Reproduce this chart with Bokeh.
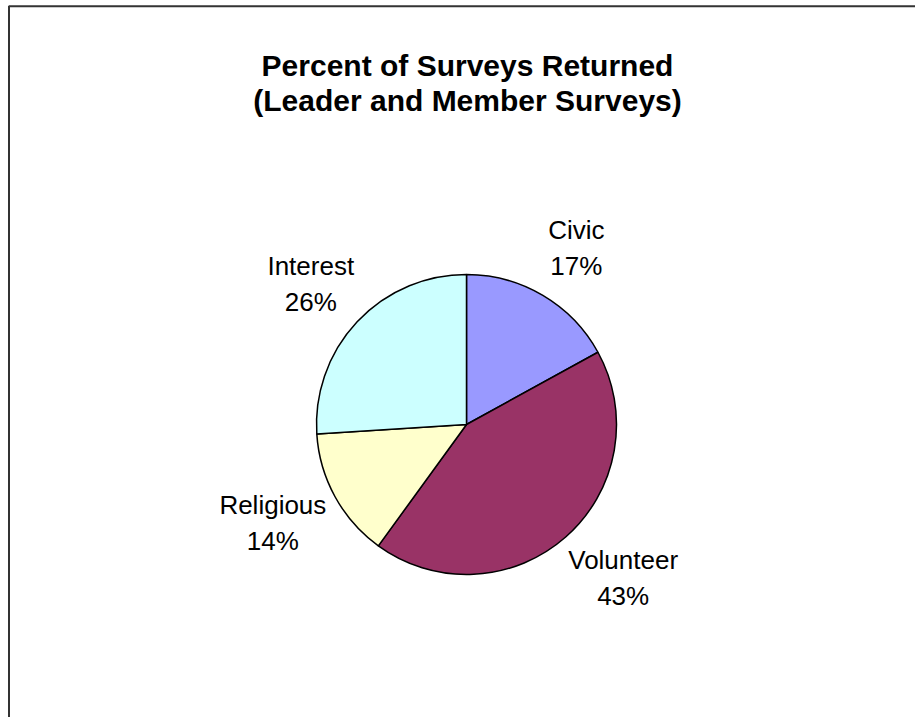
import math
from bokeh.plotting import figure
from bokeh.models import ColumnDataSource, BoxAnnotation
from bokeh.core.properties import value
from bokeh.embed import file_html
from bokeh.resources import INLINE

# ---- data ----
categories = ["Civic", "Volunteer", "Religious", "Interest"]
percents = [17, 43, 14, 26]
colors = ["#9999FF", "#993366", "#FFFFCC", "#CCFFFF"]
title_lines = ["Percent of Surveys Returned", "(Leader and Member Surveys)"]

W, H = 915, 717
CX, CY, R = 466, H - 424, 150
FONT = "Liberation Sans"
LABEL_PX = 26
LINE_GAP = 36
GAP = 24
LABEL_DX = 6

p = figure(width=W, height=H, x_range=(0, W), y_range=(0, H),
           output_backend="svg", toolbar_location=None, min_border=0)
p.axis.visible = False
p.grid.visible = False
p.outline_line_color = None
p.background_fill_color = "white"
p.border_fill_color = "white"

# chart frame (extends beyond window on right and bottom)
p.add_layout(BoxAnnotation(left=8.5, right=W + 20, top=H - 5.7, bottom=-20,
                           fill_alpha=0, line_color="#333333", line_alpha=1.0,
                           line_width=2))

total = sum(percents)
starts, ends = [], []
label_x, name_y, pct_y = [], [], []
cum = 0.0
for cat, v in zip(categories, percents):
    a0 = math.pi / 2 - 2 * math.pi * cum / total
    cum += v
    a1 = math.pi / 2 - 2 * math.pi * cum / total
    starts.append(a1)
    ends.append(a0)
    mid = (a0 + a1) / 2
    c, s = math.cos(mid), math.sin(mid)
    wbox = len(cat) * 0.46 * LABEL_PX
    hbox = LINE_GAP + LABEL_PX
    ax = CX + (R + GAP) * c
    ay = CY + (R + GAP) * s
    bx = ax + c * wbox / 2 + LABEL_DX
    by = ay + s * hbox / 2
    label_x.append(bx)
    name_y.append(by + LINE_GAP / 2)
    pct_y.append(by - LINE_GAP / 2)

src = ColumnDataSource(dict(start=starts, end=ends, color=colors,
                            name=categories,
                            pct=[f"{v}%" for v in percents],
                            lx=label_x, ny=name_y, py=pct_y))

p.wedge(x=CX, y=CY, radius=R, start_angle="start", end_angle="end",
        fill_color="color", line_color="black", line_width=1.5, source=src)

p.text(x="lx", y="ny", text="name", source=src, text_font=value(FONT),
       text_font_size=f"{LABEL_PX}px", text_align="center",
       text_baseline="middle", text_color="black")
p.text(x="lx", y="py", text="pct", source=src, text_font=value(FONT),
       text_font_size=f"{LABEL_PX}px", text_align="center",
       text_baseline="middle", text_color="black")

tsrc = ColumnDataSource(dict(x=[467, 467], y=[H - 65, H - 100], t=title_lines))
p.text(x="x", y="y", text="t", source=tsrc, text_font=value(FONT),
       text_font_size="30px", text_font_style="bold", text_align="center",
       text_baseline="middle", text_color="black")

open("out.html", "w").write(file_html(p, INLINE))
